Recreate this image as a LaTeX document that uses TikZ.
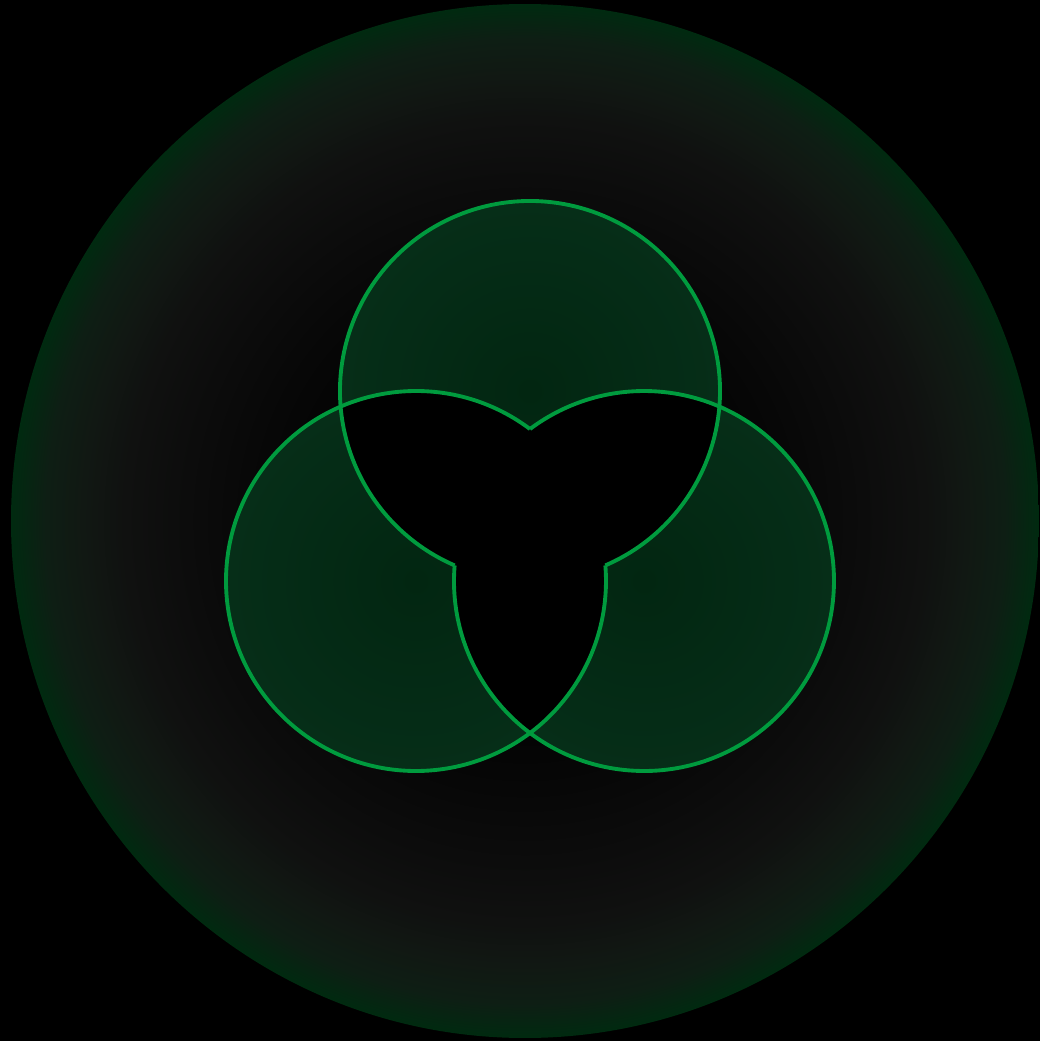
\documentclass[tikz,border=0pt]{standalone}
\usepackage{tikz}
\definecolor{ringgreen}{RGB}{0,155,62}
\definecolor{lobein}{RGB}{2,38,17}
\definecolor{lobeout}{RGB}{6,46,24}
\definecolor{haloA}{RGB}{7,7,7}
\definecolor{haloB}{RGB}{12,12,12}
\definecolor{haloC}{RGB}{16,17,16}
\definecolor{haloD}{RGB}{17,24,19}
\definecolor{haloE}{RGB}{14,30,20}
\definecolor{haloF}{RGB}{0,42,16}
\pgfdeclareradialshading{halo}{\pgfpoint{0bp}{0bp}}{color(0bp)=(black); color(7bp)=(black); color(13bp)=(haloA); color(16.5bp)=(haloB); color(19.5bp)=(haloC); color(21.5bp)=(haloD); color(23.3bp)=(haloE); color(25bp)=(haloF); color(50bp)=(haloF)}
\tikzset{lobe/.style={inner color=lobein, outer color=lobeout},
  rim/.style={ringgreen, line width=1.1pt}}

\begin{document}
\begin{tikzpicture}[x=1mm,y=1mm]
  \useasboundingbox (0,0) rectangle (104,104.1);
  \fill[black] (0,0) rectangle (104,104.1);
  \shade[shading=halo] (52.5,52) ellipse[x radius=51.4, y radius=51.7];
  \coordinate (t) at (53,65);
  \coordinate (l) at (41.6,46);
  \coordinate (r) at (64.4,46);
  \foreach \c in {t,l,r}
    \shade[lobe] (\c) circle[radius=19];
  \foreach \a/\b in {t/l,t/r,l/r}{
    \begin{scope}
      \clip (\a) circle[radius=19];
      \fill[black] (\b) circle[radius=19];
    \end{scope}}
  \foreach \c/\s/\e in {t/293.37/606.63, l/53.13/364.7, r/175.3/486.87}
    \draw[rim] ([shift={(\s:19)}]\c) arc[start angle=\s, end angle=\e, radius=19];
\end{tikzpicture}
\end{document}
